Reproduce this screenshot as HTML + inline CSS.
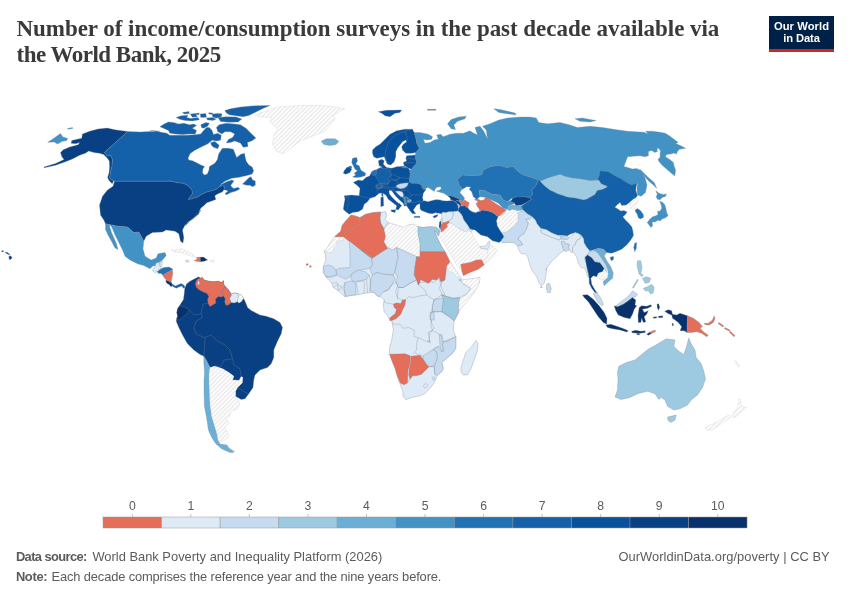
<!DOCTYPE html>
<html><head><meta charset="utf-8"><title>Number of income/consumption surveys</title>
<style>
html,body{margin:0;padding:0;background:#fff;}
body{width:850px;height:600px;position:relative;overflow:hidden;font-family:"Liberation Sans",sans-serif;}
.title{position:absolute;left:16.5px;top:16.4px;margin:0;font-family:"Liberation Serif",serif;font-weight:bold;font-size:23px;line-height:26px;color:#3a3a3a;white-space:nowrap;}
.logo{position:absolute;left:769px;top:16px;width:65px;height:33px;background:#002147;border-bottom:3px solid #ce261e;color:#fff;font-weight:bold;font-size:11.2px;line-height:12.2px;text-align:center;padding-top:3.9px;box-sizing:border-box;height:36px;white-space:nowrap;}
.foot{position:absolute;font-size:12.9px;line-height:16px;color:#5b5b5b;white-space:nowrap;}
.foot b{font-weight:bold;}
svg{position:absolute;left:0;top:0;}
svg text{font-family:"Liberation Sans",sans-serif;}
</style></head><body>
<svg width="850" height="600" viewBox="0 0 850 600">
<defs><pattern id="h" width="3.07" height="3.07" patternUnits="userSpaceOnUse" patternTransform="rotate(-45)"><rect width="3.07" height="3.07" fill="#fff"/><rect width="3.07" height="1.45" fill="#ebebeb"/></pattern></defs>
<g stroke="#808890" stroke-opacity=".6" stroke-width=".55" stroke-linejoin="round">
<path d="M47.7 142.3L52.7 139.0L60.5 133.4L62.9 136.9L67.5 138.3L66.8 140.5L61.9 141.5L57.6 144.0L54.1 141.9Z" fill="#4292c6"/>
<path d="M67.5 128.4L72.5 127.6L72.8 128.4L68.0 129.3Z" fill="#4292c6"/>
<path d="M82.4 134.1L89.5 131.3L98.0 129.1L107.2 128.1L115.0 129.8L127.8 131.5L104.4 152.5L107.2 156.0L110.8 155.6L112.5 159.6L111.9 166.7L110.5 172.3L109.6 178.0L113.6 180.8L112.2 183.7L109.3 180.8L107.6 177.7L109.1 172.3L109.6 166.7L109.3 161.0L107.2 157.9L103.7 154.6L99.4 153.2L93.8 152.5L88.8 151.1L85.3 153.2L79.6 155.3L72.5 158.9L65.4 161.7L55.5 165.3L44.2 167.8L43.9 167.0L55.5 163.6L64.0 159.6L61.9 156.8L60.5 152.5L63.3 149.7L69.7 147.1L78.2 144.7L79.6 142.6L75.3 143.7L71.1 143.3L71.8 140.5L78.2 139.0L81.7 138.3Z" fill="#084083"/>
<path d="M140.0 132.0L150.0 131.5L160.0 131.2L150.0 130.4L158.5 131.8L166.9 133.2L169.8 135.3L178.2 135.3L186.7 135.3L196.6 134.6L200.8 133.9L203.6 130.4L206.5 127.5L209.3 127.5L212.1 130.4L213.5 134.6L217.8 133.2L221.3 135.3L220.6 140.2L216.4 140.9L212.1 140.2L207.9 143.8L202.2 146.6L195.2 150.1L190.2 153.6L188.1 157.9L188.1 158.0L188.7 160.1L192.4 160.7L196.7 162.8L200.9 164.9L204.6 166.5L203.0 168.7L202.5 172.9L204.6 175.1L207.3 174.0L208.9 170.3L209.4 166.5L214.8 163.3L217.4 159.6L218.5 154.3L221.2 150.0L222.5 148.3L228.3 148.3L233.3 149.2L235.0 153.3L236.7 157.5L240.8 154.2L245.0 153.3L244.6 154.3L246.2 161.2L248.9 164.9L252.1 167.1L253.7 170.8L252.1 174.0L246.8 175.6L239.3 177.2L231.8 178.3L225.4 180.9L221.2 184.1L219.6 186.8L216.9 188.9L212.6 190.5L206.8 192.1L202.0 194.2L197.7 196.9L191.3 199.0L188.1 199.6L189.7 196.9L192.4 193.7L191.9 190.0L188.7 186.2L183.9 183.6L176.4 182.5L170.0 180.9L171.2 181.2L114.4 181.3L113.6 180.8L109.6 178.0L110.5 172.3L111.9 166.7L112.5 159.6L110.8 155.6L107.2 156.0L104.4 152.5L127.8 131.5Z" fill="#1561a9"/>
<path d="M159.9 126.8L164.1 124.0L168.4 121.9L174.0 122.6L178.2 124.0L183.9 123.3L189.5 124.7L193.8 124.0L196.6 125.4L192.4 128.2L196.6 130.4L195.2 133.9L189.5 133.9L182.5 134.6L175.4 133.9L169.8 133.2L168.4 130.4L163.4 128.2Z" fill="#1561a9"/>
<path d="M176.1 117.6L181.1 115.8L188.1 115.2L186.7 117.6L190.9 118.4L198.0 117.6L199.4 119.8L192.4 120.9L185.3 120.5L180.4 119.5Z" fill="#1561a9"/>
<path d="M195.2 113.4L199.4 113.0L198.7 114.8L195.5 114.8Z" fill="#1561a9"/>
<path d="M206.5 118.1L212.1 117.6L216.4 119.1L212.8 120.5L207.2 119.8Z" fill="#1561a9"/>
<path d="M208.6 112.7L212.8 113.0L212.1 114.4L209.0 114.1Z" fill="#1561a9"/>
<path d="M217.8 113.4L222.0 113.8L221.3 116.9L217.8 116.7Z" fill="#1561a9"/>
<path d="M200.8 124.7L205.8 122.6L209.3 123.3L207.9 126.1L203.6 128.2L201.5 127.5Z" fill="#1561a9"/>
<path d="M216.4 127.5L219.2 124.7L226.2 123.3L234.7 124.0L240.4 124.7L246.0 128.2L250.9 133.2L255.9 138.1L251.7 140.9L247.4 142.4L248.1 146.6L243.2 147.3L240.4 143.1L234.7 140.9L230.5 142.4L226.2 143.1L228.4 139.5L232.6 137.4L234.7 133.9L230.5 131.8L224.8 131.8L222.0 133.9L217.8 131.8Z" fill="#1561a9"/>
<path d="M217.8 117.6L226.2 116.7L236.1 116.9L241.8 119.1L238.2 121.9L229.1 122.3L220.6 121.5Z" fill="#1561a9"/>
<path d="M190.2 114.1L195.2 113.4L197.3 116.7L192.4 117.2Z" fill="#1561a9"/>
<path d="M200.1 114.1L205.8 113.4L206.5 117.2L200.8 117.6Z" fill="#1561a9"/>
<path d="M212.1 114.1L217.8 113.4L220.6 116.9L216.4 118.1L212.8 117.2Z" fill="#1561a9"/>
<path d="M182.5 112.4L188.8 111.6L189.5 113.6L183.9 114.1Z" fill="#1561a9"/>
<path d="M224.8 110.6L230.5 108.8L240.4 107.1L251.7 105.9L270.0 105.4L262.9 108.5L254.5 112.7L248.8 115.5L243.2 116.7L236.1 115.8L229.1 114.8L226.2 112.7Z" fill="#1561a9"/>
<path d="M210.7 142.4L214.9 141.6L219.2 145.2L217.8 148.7L213.5 147.3L211.4 145.2Z" fill="#1561a9"/>
<path d="M242.5 184.1L245.7 180.9L248.9 177.7L251.0 176.7L252.6 179.9L255.3 180.9L255.3 185.2L252.6 186.8L250.0 185.2L246.8 185.2Z" fill="#1561a9"/>
<path d="M219.6 186.8L221.2 184.6L226.5 181.8L231.8 180.1L234.0 180.9L232.4 183.0L230.8 185.2L231.8 187.3L234.0 188.4L238.2 187.3L239.8 188.9L236.1 191.0L230.8 192.6L226.5 194.8L224.9 193.7L228.1 191.0L225.4 190.0L223.8 190.0L224.4 186.8L222.2 185.7Z" fill="#1561a9"/>
<path d="M114.5 181.2L171.2 181.2L170.0 180.9L176.4 182.5L183.9 183.6L188.7 186.2L191.9 190.0L192.4 193.7L189.7 196.9L188.1 199.6L191.3 199.0L197.7 196.9L202.0 194.2L206.8 192.1L212.6 190.5L216.9 188.9L219.6 186.8L222.2 185.7L224.4 186.8L223.8 190.0L222.2 192.1L218.0 193.7L214.8 195.8L215.8 199.6L211.0 201.2L206.8 202.8L204.1 205.4L200.9 208.1L199.3 211.3L198.8 214.0L192.5 218.8L187.5 222.5L185.0 226.2L201.2 210.0L197.5 215.0L190.0 221.2L185.0 225.0L182.5 230.0L183.8 237.5L183.0 243.0L180.5 241.2L178.8 233.8L175.0 231.2L166.2 230.0L162.5 232.0L152.5 232.5L146.2 236.2L143.8 241.2L138.8 232.0L133.8 232.5L127.5 227.0L117.5 226.2L105.5 223.8L103.8 220.0L100.5 215.0L99.5 205.0L102.5 196.2L107.5 190.0L113.0 186.2Z" fill="#084083"/>
<path d="M105.5 223.8L117.5 226.2L127.5 227.0L133.8 232.5L138.8 232.0L143.8 241.2L143.0 248.8L145.0 256.2L151.2 260.0L156.2 258.0L158.0 253.8L165.0 252.5L166.2 255.5L162.5 260.0L160.0 262.0L157.5 262.5L155.5 265.5L152.5 266.2L150.0 268.8L143.8 265.5L137.5 263.8L130.0 260.0L125.0 256.2L122.5 250.0L118.8 242.5L115.0 235.0L112.5 228.8L110.5 225.0L109.5 226.0L111.5 232.5L114.0 238.0L116.5 243.8L118.0 249.5L115.0 248.0L111.5 241.2L108.0 235.0L105.5 229.5Z" fill="#4292c6"/>
<path d="M152.9 269.4L155.3 266.5L155.9 262.9L159.4 262.9L160.0 266.5L161.2 267.6L160.0 269.4L157.6 271.8L154.7 272.4L152.6 270.9Z" fill="#deebf7"/>
<path d="M160.0 261.8L162.4 261.2L161.8 266.5L160.0 266.5Z" fill="#deebf7"/>
<path d="M160.0 269.4L163.5 267.6L168.8 267.1L172.4 268.8L172.4 270.0L166.5 272.9L162.9 275.3L161.2 273.5L158.8 273.5L157.1 271.8Z" fill="#2171b5"/>
<path d="M162.9 275.3L166.5 272.9L172.4 270.0L172.9 273.5L171.8 278.2L171.2 282.4L168.8 281.2L165.9 279.4L163.5 277.1Z" fill="#e56e5a"/>
<path d="M165.9 280.0L168.8 281.2L171.8 282.9L172.4 285.3L171.2 287.1L169.4 284.7L167.1 283.5L165.9 281.8Z" fill="#08306b"/>
<path d="M172.4 284.1L175.3 285.9L178.2 284.7L181.2 283.5L184.1 285.3L185.1 287.6L183.5 288.2L181.8 285.9L178.8 287.1L176.5 288.2L173.5 287.1L171.8 285.3Z" fill="#1561a9"/>
<path d="M185.3 260.4L188.2 260.0L189.4 261.4L186.5 262.4Z" fill="#deebf7"/>
<path d="M194.1 260.4L197.1 259.4L196.5 257.3L200.0 257.3L200.6 261.8L197.1 261.5Z" fill="#e56e5a"/>
<path d="M200.0 257.3L203.5 257.1L207.6 260.0L204.1 261.2L200.6 261.8Z" fill="#08306b"/>
<path d="M210.0 260.4L214.1 260.4L214.1 261.8L210.0 261.8Z" fill="url(#h)" stroke="#c8c8c8" stroke-width=".5"/>
<path d="M171.2 250.0L182.5 248.8L192.5 253.8L195.0 257.0L188.8 255.5L181.2 252.5L173.8 252.0Z" fill="url(#h)" stroke="#c8c8c8" stroke-width=".5"/>
<path d="M185.1 287.6L186.5 284.1L190.0 281.2L194.7 278.8L198.8 276.8L200.6 278.2L202.4 277.6L204.1 280.0L208.8 281.2L213.5 281.8L218.2 281.2L221.8 282.4L223.5 280.6L223.5 284.1L225.3 286.5L228.2 289.4L230.6 292.9L231.2 294.1L234.7 292.9L238.2 293.8L241.8 295.3L243.5 298.2L245.3 301.8L247.6 307.6L247.5 307.5L251.2 310.5L260.0 315.0L266.2 316.2L273.8 318.8L280.0 322.5L282.5 327.5L281.2 333.8L277.5 341.2L273.8 350.0L273.8 357.5L271.2 363.8L267.5 367.5L260.0 370.0L255.0 375.0L253.8 380.0L253.0 387.5L248.8 393.8L245.0 398.8L241.2 399.5L235.5 396.2L235.5 391.2L237.5 387.5L242.5 382.5L243.0 377.5L241.2 376.2L238.8 380.5L232.5 380.0L233.8 376.2L228.8 372.5L222.5 368.8L215.0 366.2L210.0 367.5L206.2 360.0L203.8 356.2L200.0 354.5L193.8 350.0L187.5 343.8L182.5 335.0L178.8 327.5L176.2 321.2L176.5 319.4L177.6 315.9L176.8 312.4L177.6 308.8L179.4 305.9L181.2 302.9L183.5 299.4L184.1 294.7L184.7 288.8Z" fill="#084083"/>
<path d="M200.6 278.2L202.4 277.6L204.1 280.0L208.8 281.2L213.5 281.8L218.2 281.2L221.8 282.4L223.5 280.6L223.5 284.1L225.3 286.5L222.9 290.0L221.8 293.5L223.5 295.9L221.2 297.1L218.2 296.5L215.3 299.4L215.9 302.9L212.9 304.7L210.0 306.5L208.2 303.5L207.6 299.4L208.8 296.5L207.1 293.5L202.9 291.8L199.4 290.0L196.5 287.6L195.3 284.1L196.5 280.6L198.2 278.8Z" fill="#e56e5a"/>
<path d="M197.6 281.5L199.2 281.2L199.4 284.4L197.9 284.7Z" fill="#ffffff"/>
<path d="M225.3 286.5L228.2 289.4L230.6 292.9L231.2 295.9L229.4 298.2L231.2 302.4L228.8 304.7L225.9 305.3L224.7 301.8L225.3 298.8L223.5 295.9L221.8 293.5L222.9 290.0Z" fill="#e56e5a"/>
<path d="M231.2 294.1L234.7 292.9L238.2 293.8L238.5 297.1L237.6 301.8L234.1 302.9L231.2 302.4L229.4 298.2L231.2 295.9Z" fill="#deebf7"/>
<path d="M238.2 293.8L241.8 295.3L243.5 298.2L241.2 301.8L238.8 302.9L237.6 301.8L238.5 297.1Z" fill="url(#h)" stroke="#c8c8c8" stroke-width=".5"/>
<path d="M179.4 305.9L182.9 306.5L186.5 308.2L189.4 310.0L187.6 312.9L185.3 315.3L182.4 317.6L179.4 320.0L176.5 319.4L177.6 315.9L176.8 312.4L177.6 308.8Z" fill="#08306b"/>
<path d="M203.8 356.2L206.2 360.0L210.0 367.5L209.0 375.0L209.0 380.0L209.6 392.0L210.0 404.0L211.6 416.0L214.0 424.0L217.0 434.0L218.0 440.0L220.0 444.0L227.0 445.0L229.0 448.0L233.6 451.0L233.6 452.4L230.0 452.4L222.0 449.0L216.0 444.0L212.0 438.0L208.4 430.0L207.0 420.0L204.4 406.0L204.0 392.0L204.0 380.0L204.5 372.5L203.8 362.5Z" fill="#6baed6"/>
<path d="M210.0 367.5L215.0 366.2L222.5 368.8L228.8 372.5L233.8 376.2L232.5 380.0L238.8 380.5L242.5 382.5L237.5 387.5L235.5 391.2L235.5 396.2L235.0 396.0L238.0 400.0L240.0 404.0L238.0 409.0L231.0 411.0L230.0 416.0L226.0 418.0L229.0 423.0L225.0 427.0L227.0 432.0L229.0 436.0L225.0 440.0L220.0 442.0L218.0 440.0L217.0 434.0L214.0 424.0L211.6 416.0L210.0 404.0L209.6 392.0L209.0 380.0L209.0 375.0Z" fill="url(#h)" stroke="#c8c8c8" stroke-width=".5"/>
<path d="M227.0 445.0L230.0 449.0L236.0 451.0L233.6 451.0L229.0 448.0Z" fill="url(#h)" stroke="#c8c8c8" stroke-width=".5"/>
<path d="M255.0 115.0L265.0 111.2L277.5 107.0L300.0 105.5L320.0 105.5L335.0 107.0L345.0 108.8L340.0 111.2L333.8 115.0L335.0 120.0L330.0 125.0L325.0 131.2L312.5 136.2L300.0 141.2L290.0 148.8L282.5 153.8L276.2 151.2L272.5 143.8L273.8 135.0L277.5 128.8L270.0 122.5L271.2 117.5L260.0 117.0Z" fill="url(#h)" stroke="#c8c8c8" stroke-width=".5"/>
<path d="M321.2 141.2L326.2 138.8L335.0 138.8L338.8 141.2L336.2 144.5L330.0 145.5L323.8 144.5Z" fill="#6baed6"/>
<path d="M414.2 132.5L420.0 132.5L428.3 134.2L432.5 136.7L431.7 139.2L426.7 140.0L423.3 139.2L425.0 143.3L430.0 142.5L434.2 140.0L438.3 139.2L436.7 135.0L440.8 134.2L443.3 136.7L450.0 134.2L456.7 133.3L463.3 133.3L470.0 130.8L472.5 132.5L477.5 135.0L475.0 127.5L480.0 126.2L483.8 131.2L487.5 138.8L486.2 130.0L482.5 126.2L490.0 123.8L498.8 120.0L507.5 118.0L520.0 117.0L530.0 117.0L536.2 118.0L538.8 122.5L547.5 123.8L560.0 122.5L570.0 125.0L577.5 127.5L590.0 126.2L602.5 127.5L615.0 129.5L627.5 131.2L640.0 132.0L644.1 132.3L647.8 133.9L645.7 131.2L652.6 131.2L660.1 132.3L665.4 133.3L669.7 136.0L674.0 139.2L678.2 142.4L675.6 143.5L680.4 145.6L685.7 148.3L682.5 148.8L679.3 149.3L677.2 152.0L676.6 154.1L674.0 153.0L670.8 154.1L666.5 154.6L665.4 156.8L669.7 159.4L673.4 162.6L674.0 165.8L675.6 170.1L674.8 176.0L670.8 172.8L666.5 169.0L662.2 165.3L659.0 161.6L658.0 159.4L660.1 157.3L660.1 153.0L660.6 150.9L658.5 148.3L656.9 148.8L657.4 151.4L654.8 152.5L651.6 150.4L648.4 151.4L648.4 155.7L645.2 156.8L639.9 155.7L633.5 156.2L627.6 156.8L626.0 161.0L623.9 166.4L627.6 167.4L632.4 169.0L636.7 168.5L640.9 170.6L645.0 177.5L647.0 185.0L645.5 192.5L641.2 196.2L637.5 195.0L637.0 188.8L637.5 183.0L632.5 190.0L625.0 186.2L617.5 181.2L608.8 177.5L600.0 175.0L597.5 183.3L590.0 182.5L585.0 183.3L576.7 181.7L568.3 179.2L560.0 177.5L583.3 183.3L573.3 180.8L563.3 180.0L558.3 177.5L546.7 181.7L540.0 183.3L538.3 180.0L531.7 177.5L523.3 175.0L518.3 171.7L513.3 166.7L506.7 167.5L498.3 165.3L490.0 166.7L483.3 170.0L481.7 175.0L471.7 175.8L462.5 175.0L457.5 179.2L459.2 185.0L462.5 189.2L461.8 189.5L459.9 192.4L462.8 195.7L464.7 198.5L462.8 201.9L460.4 200.0L458.0 198.5L454.2 196.9L450.4 195.7L447.6 195.7L443.8 193.3L439.0 191.9L436.2 190.9L439.0 190.5L441.4 188.6L440.4 186.7L437.1 187.1L435.2 189.0L434.3 191.4L431.4 189.5L428.1 187.6L425.2 188.6L425.8 190.0L423.3 187.5L421.7 184.7L416.7 183.3L411.7 183.3L409.2 181.7L409.7 178.3L410.0 174.2L409.7 170.0L411.7 169.2L413.3 166.7L416.7 163.3L415.8 159.2L415.0 155.0L415.8 152.5L419.2 148.3L416.7 143.3L415.8 138.3Z" fill="#4292c6"/>
<path d="M447.5 123.8L451.2 119.5L458.8 117.0L466.2 116.2L465.0 118.8L457.5 121.2L453.8 125.0L455.5 129.5L451.2 128.8Z" fill="#4292c6"/>
<path d="M493.8 108.8L500.0 109.5L507.5 111.2L515.0 113.0L516.2 115.0L507.5 113.8L498.8 112.5Z" fill="#4292c6"/>
<path d="M575.0 118.8L582.5 118.0L590.0 119.5L596.2 120.5L590.0 122.0L580.0 121.2Z" fill="#4292c6"/>
<path d="M640.0 169.2L643.3 172.5L648.3 177.5L654.2 182.5L656.7 188.3L653.3 185.0L648.3 180.8L644.2 175.8L640.8 171.7Z" fill="#4292c6"/>
<path d="M427.5 109.2L435.8 109.2L435.8 110.3L427.5 110.3Z" fill="#4292c6"/>
<path d="M378.3 111.7L386.7 110.3L401.7 110.0L400.0 112.5L395.0 113.3L390.0 116.7L385.0 115.8L381.7 113.3Z" fill="#08519c"/>
<path d="M372.5 150.0L375.8 146.7L380.0 144.2L385.0 139.2L390.0 134.2L396.7 130.8L405.0 129.2L412.5 129.2L414.2 132.5L415.8 138.3L416.7 143.3L419.2 148.3L415.8 152.5L411.7 153.3L405.8 153.3L402.5 150.0L401.7 146.7L403.3 144.2L406.7 141.7L405.8 140.0L402.5 141.7L400.0 145.0L397.5 148.3L395.8 151.7L395.8 156.7L394.2 161.7L390.8 165.0L387.5 164.2L385.8 160.8L384.2 156.7L380.8 157.5L376.7 158.3L373.7 156.7L372.5 153.3Z" fill="#08519c"/>
<path d="M406.7 155.8L415.0 155.0L415.8 159.2L416.7 163.3L413.3 166.7L411.7 169.2L408.3 168.3L404.2 165.8L403.3 162.5L406.7 160.8L405.8 158.3Z" fill="#08519c"/>
<path d="M353.3 182.5L358.3 180.0L362.5 180.8L365.8 177.5L370.0 175.8L370.0 175.0L371.7 171.7L375.8 169.7L377.5 170.8L380.8 169.2L381.7 166.7L379.2 165.8L378.3 160.8L381.7 159.2L384.2 160.8L383.3 164.2L385.8 166.7L386.7 167.5L391.7 168.3L396.7 166.7L403.3 166.3L408.3 168.3L409.7 170.0L410.0 174.2L409.7 178.3L409.2 181.7L411.7 183.3L416.7 183.3L421.7 184.7L423.3 187.5L425.8 189.7L423.3 193.3L422.5 197.5L423.3 200.8L420.8 203.3L416.7 205.0L415.0 207.5L413.3 210.0L415.8 213.7L412.5 213.7L410.0 210.8L408.3 208.3L406.7 205.8L404.2 206.1L403.2 203.2L400.9 201.3L398.0 198.5L395.2 195.6L392.8 192.3L391.4 190.4L389.0 190.4L389.3 193.7L391.8 197.0L395.2 200.4L398.5 203.2L399.2 203.3L401.7 205.8L400.0 207.5L398.3 210.0L395.8 209.2L396.7 205.8L392.5 202.5L388.3 199.2L385.8 195.0L382.5 193.3L379.2 193.3L375.0 196.7L370.0 198.3L367.5 201.7L364.2 204.2L362.5 209.2L358.3 211.7L352.5 212.5L349.2 214.2L345.8 211.7L343.3 209.2L344.2 203.3L345.0 199.2L344.2 195.8L351.7 195.0L359.2 195.8L359.2 195.0L360.0 188.3L356.7 185.0Z" fill="#08519c"/>
<path d="M390.8 210.0L395.8 209.7L395.0 212.5L391.7 211.7Z" fill="#08519c"/>
<path d="M380.8 197.5L383.3 196.7L383.7 205.8L380.8 206.7Z" fill="#08519c"/>
<path d="M381.7 193.7L383.0 193.3L383.0 196.3L381.7 196.3Z" fill="#08519c"/>
<path d="M414.2 216.3L420.0 216.3L420.0 217.5L414.2 217.5Z" fill="#08519c"/>
<path d="M352.5 158.3L356.7 157.5L357.5 160.8L355.8 164.2L359.2 165.8L360.8 170.0L363.3 171.7L365.8 173.3L365.0 175.8L360.8 177.0L356.7 177.5L352.5 177.0L355.8 175.0L354.2 173.3L357.5 170.8L355.0 169.2L353.3 165.8L351.7 162.5Z" fill="#2171b5"/>
<path d="M344.2 170.8L346.7 167.5L349.7 166.7L351.7 169.2L350.0 172.5L345.8 174.2L343.3 173.3Z" fill="#08519c"/>
<path d="M348.7 166.3L351.3 166.0L352.0 168.3L349.7 168.0Z" fill="#2171b5"/>
<path d="M376.6 169.5L380.4 167.6L382.8 168.5L387.6 168.5L390.4 169.5L390.9 172.8L391.8 175.7L388.0 178.0L389.5 181.8L387.6 184.7L382.8 184.2L379.0 183.7L378.5 180.4L376.2 178.5L375.7 175.2L376.6 172.3Z" fill="#1561a9"/>
<path d="M371.4 173.8L372.8 170.9L375.7 170.1L376.6 172.3L375.7 175.2L373.3 175.7Z" fill="#2171b5"/>
<path d="M375.7 186.1L378.5 184.7L382.8 185.6L382.3 188.0L378.5 189.0L376.2 188.5Z" fill="#1561a9"/>
<path d="M396.6 185.2L399.9 183.7L404.7 183.1L408.5 182.8L407.5 185.6L404.7 188.0L400.9 189.0L397.5 188.0L396.1 186.6Z" fill="#c6dbef"/>
<path d="M395.2 191.3L399.0 190.9L402.3 191.8L403.7 194.7L402.8 197.5L400.4 196.6L397.5 193.7Z" fill="#deebf7"/>
<path d="M402.8 197.5L404.2 196.1L406.1 197.0L405.6 199.4L403.9 199.9Z" fill="#4292c6"/>
<path d="M406.4 196.7L408.5 197.5L408.5 199.4L406.6 199.2Z" fill="#4292c6"/>
<path d="M407.0 199.9L410.4 198.9L411.8 200.8L409.9 202.7L407.3 202.3Z" fill="#6baed6"/>
<path d="M403.9 199.9L405.6 199.4L407.0 202.3L406.6 205.6L404.7 205.1L404.2 202.3Z" fill="#4292c6"/>
<path d="M420.8 184.2L423.2 185.6L425.1 189.0L423.7 189.7L422.2 187.5Z" fill="#4292c6"/>
<path d="M401.8 166.2L406.6 166.6L406.6 168.1L401.8 167.6Z" fill="#4292c6"/>
<path d="M420.0 202.3L424.3 200.7L428.1 201.7L431.4 200.7L435.2 199.8L439.0 199.8L442.8 200.7L446.6 201.1L449.9 200.7L452.8 200.4L455.6 201.9L457.1 203.8L458.0 206.1L458.5 208.5L458.0 210.9L455.2 211.4L452.3 211.8L448.5 211.8L445.7 212.8L442.8 212.3L441.9 213.7L439.0 213.3L435.2 212.8L432.4 213.7L428.6 213.3L424.8 211.8L421.4 210.4L420.0 208.5Z" fill="#08519c"/>
<path d="M447.6 195.7L450.4 195.7L454.2 196.9L458.0 198.5L460.4 200.0L459.0 200.7L456.6 200.4L455.6 201.7L452.8 200.4L450.4 199.5L450.2 198.1Z" fill="#084083"/>
<path d="M455.6 201.7L456.6 200.4L459.0 200.9L460.4 202.8L461.8 205.2L460.4 206.1L458.5 204.2L457.1 203.8Z" fill="#08519c"/>
<path d="M459.0 200.7L460.4 200.0L462.8 201.9L464.7 200.0L467.0 201.4L469.4 202.8L468.5 205.2L468.0 208.0L466.6 207.6L465.1 205.7L463.2 206.1L461.8 205.2L460.4 202.8L459.9 201.4Z" fill="#e56e5a"/>
<path d="M458.5 204.9L460.7 205.7L460.4 207.1L458.8 206.6Z" fill="#e56e5a"/>
<path d="M458.5 208.5L460.4 206.1L463.2 206.1L465.1 205.7L466.6 207.6L468.0 208.0L469.4 209.9L472.3 211.8L475.6 212.8L478.4 211.4L479.9 211.4L482.2 209.9L485.6 210.4L488.4 210.9L492.2 212.3L495.1 214.2L498.3 216.7L496.7 220.8L497.5 225.8L500.0 230.0L504.2 235.0L503.3 239.2L499.2 242.5L492.5 240.8L487.5 236.7L480.8 235.0L475.0 230.0L470.4 229.4L468.5 226.6L466.6 223.7L463.7 219.9L462.3 216.1L460.4 213.3L458.0 210.9Z" fill="#08519c"/>
<path d="M474.6 199.0L477.0 198.5L480.8 200.4L483.7 200.0L485.6 197.6L488.4 198.1L491.3 200.4L496.0 203.8L503.3 208.3L506.7 210.0L503.3 214.2L498.3 216.7L494.2 213.3L495.1 214.2L492.2 212.3L488.4 210.9L485.6 210.4L482.2 209.9L479.9 211.4L478.9 208.5L477.0 206.1L476.1 203.3L478.0 202.3L477.0 200.4L475.6 200.4Z" fill="#e56e5a"/>
<path d="M452.3 211.8L455.2 211.4L458.0 210.9L460.4 213.3L462.3 216.1L463.7 219.9L466.6 223.7L468.5 226.6L469.4 229.4L466.6 231.8L463.7 231.3L459.9 229.4L456.1 226.6L452.3 224.2L449.5 222.8L448.5 220.9L451.4 219.4L452.8 216.1L453.3 213.3Z" fill="#deebf7"/>
<path d="M441.9 213.7L442.8 212.3L445.7 212.8L448.5 211.8L452.3 211.8L453.3 213.3L452.8 216.1L451.4 219.4L448.5 220.9L445.7 222.3L442.8 222.8L441.4 220.9L442.3 219.0L441.4 216.6Z" fill="#deebf7"/>
<path d="M440.7 219.0L442.0 218.8L442.2 220.9L441.1 221.8Z" fill="#deebf7"/>
<path d="M439.5 221.8L441.1 221.3L441.1 224.7L440.7 228.5L440.1 229.4L439.0 226.6Z" fill="#08519c"/>
<path d="M441.1 224.7L442.8 222.8L445.7 222.3L448.5 220.9L449.5 222.8L447.1 224.7L448.0 227.0L445.7 228.5L443.3 231.3L441.1 232.3L440.7 228.5Z" fill="#e56e5a"/>
<path d="M432.8 216.6L435.7 215.3L438.1 214.4L437.1 216.6L434.3 218.0Z" fill="#08519c"/>
<path d="M469.4 229.4L471.3 228.9L472.1 231.3L470.4 232.1Z" fill="#deebf7"/>
<path d="M439.5 234.6L441.1 232.3L443.3 231.3L445.7 228.5L448.0 227.0L447.1 224.7L449.5 222.8L452.3 224.2L456.1 226.6L459.9 229.4L463.7 231.3L466.6 231.8L469.4 229.4L470.4 232.1L472.1 231.8L473.3 236.7L477.5 243.3L480.8 247.5L487.5 249.2L488.3 256.7L483.3 260.8L476.7 260.0L470.0 262.5L461.7 264.2L460.0 269.2L455.8 263.3L450.0 253.3L445.0 245.0L441.7 240.0L440.0 236.7Z" fill="url(#h)" stroke="#c8c8c8" stroke-width=".5"/>
<path d="M457.5 179.2L462.5 175.0L471.7 175.8L481.7 175.0L483.3 170.0L490.0 166.7L498.3 165.3L506.7 167.5L513.3 166.7L518.3 171.7L523.3 175.0L531.7 177.5L538.3 180.0L535.8 185.8L531.7 190.0L532.5 194.2L529.2 197.5L523.3 196.7L516.7 197.5L511.7 198.3L507.5 201.7L503.3 200.0L500.0 195.0L491.7 194.2L485.0 190.8L479.2 190.0L480.0 196.7L476.7 199.2L473.3 196.7L471.7 191.7L469.2 189.2L470.8 187.0L466.7 186.7L462.5 189.2L459.2 185.0Z" fill="#2171b5"/>
<path d="M479.2 190.0L485.0 190.8L491.7 194.2L500.0 195.0L503.3 200.0L507.5 201.7L511.7 200.0L515.8 203.3L510.0 205.0L507.5 209.2L503.3 208.3L498.3 203.3L491.7 200.0L485.8 197.5L480.0 196.7Z" fill="#4292c6"/>
<path d="M512.5 198.3L516.7 197.0L523.3 196.7L529.2 197.5L531.7 199.2L526.7 202.5L521.7 205.0L515.8 205.8L514.2 202.5L510.8 201.7Z" fill="#084083"/>
<path d="M507.5 205.8L510.8 204.2L515.8 205.8L521.7 205.8L522.5 210.0L516.7 210.8L512.5 209.2L509.2 210.8L507.5 209.2Z" fill="#6baed6"/>
<path d="M538.3 180.0L540.0 180.8L545.0 185.8L550.0 190.0L560.0 192.5L566.7 196.7L575.0 197.5L583.3 198.3L560.0 193.3L568.3 196.7L576.7 197.5L585.0 199.2L592.5 195.0L595.8 190.8L602.5 189.2L607.5 186.7L599.2 183.3L597.5 180.0L599.2 175.8L600.0 170.8L608.3 171.7L615.0 175.8L621.7 179.2L626.7 182.5L631.7 185.0L636.7 183.3L635.8 190.0L637.5 195.8L635.6 198.1L632.9 199.7L629.7 202.4L626.0 205.1L621.7 205.6L620.1 202.4L617.5 204.5L614.8 207.2L617.5 208.8L620.7 210.9L623.9 210.4L627.1 212.0L625.5 214.6L622.8 216.8L625.5 220.0L629.2 223.7L631.9 226.9L632.9 231.2L633.5 235.4L630.8 240.0L626.7 245.0L621.7 249.2L615.8 251.7L611.7 253.3L606.7 252.5L603.3 249.2L598.3 248.3L593.3 250.0L590.0 250.8L592.9 251.8L590.0 251.2L586.5 247.1L584.1 242.9L583.5 238.8L581.2 235.3L578.2 233.5L575.3 232.4L570.6 234.1L567.1 235.9L562.4 235.3L557.6 235.3L551.8 232.9L545.9 229.4L540.6 228.2L537.1 224.1L535.3 220.0L531.8 216.5L527.6 214.1L523.5 210.6L520.6 205.3L522.5 210.0L521.7 205.8L526.7 202.5L531.7 199.2L529.2 197.5L532.5 194.2L531.7 190.0L535.8 185.8Z" fill="#1561a9"/>
<path d="M540.0 181.2L547.5 178.0L560.0 174.2L565.0 176.2L572.5 178.0L580.0 178.8L590.0 180.5L598.8 180.0L601.2 183.8L607.0 186.2L602.5 188.8L597.5 190.0L595.0 194.5L587.5 198.8L583.8 200.0L575.0 198.0L567.5 197.0L557.5 193.8L550.0 190.0L545.0 186.2Z" fill="#9ecae1"/>
<path d="M610.0 257.5L613.3 256.3L613.7 259.2L611.3 260.8Z" fill="#1561a9"/>
<path d="M634.7 243.3L636.7 242.5L636.3 248.3L634.7 251.7L633.7 247.5Z" fill="#2171b5"/>
<path d="M629.7 202.4L632.9 199.7L635.6 198.1L637.5 198.7L637.9 201.3L635.6 205.1L635.1 208.3L632.4 209.9L630.8 208.8L630.3 205.6Z" fill="url(#h)" stroke="#c8c8c8" stroke-width=".5"/>
<path d="M635.1 209.9L637.7 208.6L640.9 210.9L643.3 214.6L643.6 217.3L640.4 218.9L638.3 217.8L637.2 214.1L635.6 212.0Z" fill="#2171b5"/>
<path d="M655.8 190.7L659.0 193.3L663.3 194.4L666.5 193.9L665.4 196.5L662.2 197.6L660.1 199.7L657.4 199.2L656.1 196.5L657.4 194.4Z" fill="#4292c6"/>
<path d="M659.6 201.3L662.8 202.4L664.9 205.1L666.0 208.8L666.5 212.0L668.1 215.7L665.4 217.8L662.2 218.9L660.1 221.0L657.4 220.0L654.8 221.0L652.1 222.6L648.9 222.1L647.3 222.6L650.0 218.9L652.6 216.8L655.8 215.7L658.0 214.6L657.4 211.4L660.1 210.9L661.7 208.3L661.2 205.1Z" fill="#4292c6"/>
<path d="M647.3 222.6L650.0 221.0L652.1 222.6L652.6 225.8L651.0 227.4L648.9 224.8Z" fill="#4292c6"/>
<path d="M653.2 220.3L656.9 219.2L657.4 220.7L654.2 222.2Z" fill="#4292c6"/>
<path d="M546.7 284.2L549.2 283.3L551.3 288.3L550.3 292.5L547.5 292.5L546.3 288.3Z" fill="#c6dbef"/>
<path d="M525.9 219.4L530.0 218.8L531.8 216.5L535.3 220.0L537.1 224.1L540.6 228.2L541.2 232.4L547.1 235.3L554.1 238.2L560.0 240.0L561.2 235.3L562.4 235.3L561.8 238.8L567.1 239.4L570.6 236.5L575.3 232.4L578.2 233.5L581.2 235.3L580.0 238.8L576.5 240.6L575.3 244.7L572.4 247.1L572.9 251.8L571.2 252.9L570.0 249.4L568.2 247.1L569.4 244.7L565.9 243.5L563.5 241.2L561.2 241.8L562.4 245.9L564.1 250.6L561.2 252.4L557.6 255.9L552.9 260.0L548.2 265.9L545.9 270.0L546.7 268.3L545.8 276.7L544.2 283.3L540.0 287.5L542.5 287.5L539.2 283.3L536.7 276.7L531.8 270.0L529.4 263.5L527.6 256.5L525.3 253.5L521.8 254.1L519.4 251.2L517.6 245.9L522.4 244.7L520.6 241.2L518.2 239.4L519.4 236.5L524.1 233.5L526.5 228.8L528.2 223.5Z" fill="#deebf7"/>
<path d="M541.2 230.0L545.9 229.4L551.8 232.9L557.6 235.3L560.6 235.9L560.0 240.0L554.1 238.2L547.1 235.3L541.2 232.4Z" fill="#deebf7"/>
<path d="M561.8 235.9L567.1 235.9L568.8 237.6L567.1 239.4L561.8 238.8Z" fill="#c6dbef"/>
<path d="M561.2 241.8L563.5 241.2L565.9 243.5L569.4 244.7L568.2 247.1L569.4 250.6L567.6 250.0L566.5 251.8L564.1 250.6L562.4 245.9Z" fill="#c6dbef"/>
<path d="M581.2 235.3L583.5 238.8L584.1 242.9L586.5 247.1L590.0 251.2L587.6 254.1L585.3 256.5L584.7 260.0L587.1 264.1L587.6 268.2L588.3 273.3L589.2 278.3L587.5 276.7L585.0 268.3L581.2 267.6L578.2 263.5L577.1 258.2L575.3 254.7L572.9 251.8L572.4 247.1L575.3 244.7L576.5 240.6L580.0 238.8Z" fill="#deebf7"/>
<path d="M517.6 212.9L520.6 211.2L523.5 210.6L527.6 214.1L531.8 216.5L530.0 218.8L525.9 219.4L528.2 223.5L526.5 228.8L524.1 233.5L519.4 236.5L518.2 239.4L520.6 241.2L522.4 244.7L517.6 245.9L514.1 242.9L509.4 242.4L502.4 242.9L501.2 240.0L504.1 237.1L501.8 232.9L507.1 231.2L514.1 225.9L517.6 221.2L518.2 216.5Z" fill="#c6dbef"/>
<path d="M500.0 215.3L503.5 213.5L507.1 212.9L511.8 211.8L515.3 209.4L517.6 212.9L518.2 216.5L517.6 221.2L514.1 225.9L507.1 231.2L501.8 232.9L497.5 225.8L496.7 220.8L498.3 216.7L503.3 214.2L506.7 210.0Z" fill="url(#h)" stroke="#c8c8c8" stroke-width=".5"/>
<path d="M487.5 249.2L491.7 245.0L497.5 250.0L493.3 256.7L488.3 261.7L484.2 265.0L482.5 261.7L488.3 256.7Z" fill="url(#h)" stroke="#c8c8c8" stroke-width=".5"/>
<path d="M480.0 246.7L485.8 245.8L489.2 240.8L490.0 245.0L487.5 249.2L480.8 248.3Z" fill="#deebf7"/>
<path d="M460.8 264.2L470.0 262.5L476.7 260.0L481.7 259.7L484.2 265.0L478.3 269.2L470.0 272.5L463.3 275.8L461.7 270.8Z" fill="#e56e5a"/>
<path d="M334.5 236.9L340.9 231.0L342.0 225.7L345.2 221.4L349.4 217.1L351.0 215.0L355.0 215.3L359.2 218.0L365.8 214.2L373.3 212.5L380.8 212.0L385.8 211.7L386.7 215.8L385.0 219.2L388.3 222.5L390.0 223.3L396.7 225.0L403.3 227.5L408.3 225.0L413.3 224.2L418.0 226.7L423.3 227.5L430.0 226.7L436.7 227.5L440.0 230.8L438.3 235.8L435.8 231.7L434.2 230.8L438.3 240.0L441.7 246.7L445.0 251.7L445.0 251.7L447.5 256.7L450.0 261.7L450.8 262.5L455.8 270.8L460.8 277.5L461.3 280.0L468.3 279.2L480.0 277.5L479.2 283.3L473.3 293.3L466.7 301.7L460.0 309.2L458.3 313.3L454.2 320.8L453.3 330.0L455.8 336.7L455.8 348.3L452.5 353.3L446.7 358.3L441.7 362.5L443.3 368.3L441.7 371.7L437.5 375.0L435.8 379.2L433.3 384.2L429.2 389.2L425.0 393.3L420.0 395.8L411.7 397.5L405.8 399.7L403.3 396.7L402.5 390.0L400.0 384.2L397.5 376.7L395.0 368.3L391.7 360.0L389.2 354.2L389.7 346.7L391.7 340.0L393.3 330.0L391.7 320.0L390.0 320.8L388.3 316.7L384.2 311.7L383.3 305.0L384.2 300.0L381.7 297.5L376.7 295.8L374.2 292.5L366.7 293.0L358.3 294.7L351.7 295.3L345.0 296.7L338.3 290.8L333.3 287.5L331.7 283.3L325.8 276.7L323.0 271.7L323.3 266.7L325.8 260.0L325.0 250.0L324.4 252.8L327.1 248.0L330.3 242.7Z" fill="#deebf7"/>
<path d="M334.5 236.9L340.9 231.0L342.0 225.7L345.2 221.4L349.4 217.1L351.0 215.0L356.9 216.6L359.0 217.1L359.6 221.4L360.1 224.1L355.8 225.7L353.2 228.9L347.3 231.5L344.1 233.7L343.6 236.9Z" fill="#e56e5a"/>
<path d="M334.5 236.9L343.0 236.9L343.6 240.1L336.7 241.1L336.1 245.9L333.5 247.0L332.9 252.3L324.4 252.8L327.1 248.0L330.3 242.7Z" fill="url(#h)" stroke="#c8c8c8" stroke-width=".5"/>
<path d="M359.2 218.0L365.8 214.2L373.3 212.5L380.8 212.0L380.0 218.3L380.8 223.3L384.2 229.2L385.8 236.7L384.2 241.7L387.5 247.5L389.2 247.5L380.0 253.3L372.5 258.3L369.2 256.7L343.6 236.9L344.1 233.7L347.3 231.5L353.2 228.9L355.8 225.7L360.1 224.1L359.6 221.4L359.0 217.1Z" fill="#e56e5a"/>
<path d="M385.8 225.8L390.0 223.3L396.7 225.0L403.3 227.5L408.3 225.0L413.3 224.2L418.0 226.7L418.0 233.3L420.0 243.3L420.0 256.7L416.7 256.7L396.7 247.5L391.7 250.0L387.5 247.5L384.2 241.7L385.8 236.7L384.2 229.2Z" fill="url(#h)" stroke="#c8c8c8" stroke-width=".5"/>
<path d="M418.0 226.7L423.3 227.5L430.0 226.7L436.7 227.5L440.0 230.8L438.3 235.8L435.8 231.7L434.2 230.8L438.3 240.0L441.7 246.7L445.0 251.7L420.0 251.7L420.0 243.3L418.0 233.3Z" fill="#9ecae1"/>
<path d="M349.7 241.3L369.2 256.7L372.5 258.3L361.7 250.0L371.7 258.3L372.5 265.0L370.0 268.3L360.0 270.0L353.3 272.5L350.0 276.7L345.8 279.2L341.7 277.5L336.7 275.0L335.8 270.0L339.2 268.3L350.0 267.5L350.0 250.0L349.2 244.2Z" fill="#c6dbef"/>
<path d="M323.3 266.7L328.3 265.0L333.3 266.7L335.8 270.0L336.7 275.0L330.0 276.7L325.8 276.7L324.2 273.3Z" fill="#c6dbef"/>
<path d="M372.5 258.3L380.0 253.3L389.2 247.5L391.7 250.0L396.7 247.5L398.3 258.3L397.5 260.0L395.0 271.7L393.3 275.0L383.3 274.2L376.7 272.5L372.5 275.0L370.0 268.3L372.5 265.0L371.7 258.3L361.7 250.0Z" fill="#c6dbef"/>
<path d="M351.7 274.2L358.3 270.0L365.0 271.7L369.2 275.0L366.7 279.2L360.0 280.8L353.3 281.7L350.8 278.3Z" fill="#c6dbef"/>
<path d="M372.5 275.0L376.7 272.5L383.3 274.2L393.3 275.0L395.0 279.2L391.7 285.0L388.3 290.0L383.3 291.7L379.2 296.7L374.2 292.5L370.0 290.8L370.0 283.3L370.8 278.3Z" fill="#c6dbef"/>
<path d="M345.0 282.5L351.7 280.8L355.8 282.5L355.8 295.0L351.7 295.3L345.8 296.3L344.2 290.0Z" fill="#c6dbef"/>
<path d="M396.7 247.5L416.7 256.7L417.5 260.0L416.7 256.7L415.0 266.7L414.2 275.0L416.7 280.0L410.0 283.3L403.3 287.5L398.3 287.5L395.8 281.7L397.5 276.7L395.0 271.7L397.5 260.0L398.3 258.3Z" fill="#c6dbef"/>
<path d="M420.0 251.7L445.0 251.7L445.0 251.7L447.5 256.7L450.0 261.7L446.7 265.8L445.8 273.3L445.0 280.0L440.8 281.7L439.2 276.7L436.7 280.0L432.5 279.2L428.3 283.3L423.3 280.8L420.0 280.0L420.0 282.5L418.3 285.0L416.7 280.0L414.2 275.0L415.0 266.7L416.7 256.7L417.5 260.0L416.7 256.7L420.0 256.7Z" fill="#e56e5a"/>
<path d="M447.5 265.8L450.8 262.5L455.8 270.8L460.8 277.5L459.2 279.2L453.3 272.5L448.3 270.8Z" fill="url(#h)" stroke="#c8c8c8" stroke-width=".5"/>
<path d="M461.3 280.0L468.3 279.2L480.0 277.5L479.2 283.3L473.3 293.3L466.7 301.7L460.0 309.2L458.3 313.3L458.7 301.7L460.0 297.5L466.7 294.2L470.8 288.3L462.5 283.3Z" fill="url(#h)" stroke="#c8c8c8" stroke-width=".5"/>
<path d="M441.7 295.0L447.5 296.7L453.3 298.3L460.0 297.5L458.7 301.7L458.3 313.3L454.2 320.8L449.2 316.7L441.7 311.7L442.5 305.0L443.3 300.0Z" fill="#9ecae1"/>
<path d="M434.2 299.2L441.7 298.3L443.3 300.0L442.5 305.0L441.7 311.7L431.7 311.7L432.5 305.0Z" fill="#c6dbef"/>
<path d="M430.0 312.5L434.2 312.5L434.2 320.0L430.3 320.0Z" fill="#c6dbef"/>
<path d="M393.3 304.2L396.7 303.0L400.8 303.7L402.5 300.0L405.8 299.7L405.0 305.0L402.5 310.0L400.8 314.2L396.7 318.3L393.3 320.0L390.0 320.8L389.7 318.3L392.5 315.8L395.0 314.2L396.7 309.2L394.2 307.5Z" fill="#e56e5a"/>
<path d="M389.7 354.2L405.0 353.8L410.3 355.8L409.7 365.0L408.0 370.0L407.5 383.0L404.2 384.7L400.5 383.3L397.5 376.7L395.0 368.3L391.7 360.0Z" fill="#e56e5a"/>
<path d="M410.8 356.3L420.0 355.3L423.3 359.2L426.7 364.2L429.2 366.7L425.0 370.8L421.7 374.2L416.7 375.8L412.5 375.8L410.0 379.2L408.7 375.0L409.2 368.3L410.3 364.7Z" fill="#e56e5a"/>
<path d="M423.3 355.8L428.3 352.5L432.5 349.7L436.7 351.7L437.5 357.5L435.8 362.5L433.3 366.3L429.2 366.7L426.7 364.2L423.3 359.2Z" fill="#c6dbef"/>
<path d="M443.3 341.7L455.8 336.7L455.8 348.3L452.5 353.3L446.7 358.3L441.7 362.5L443.3 368.3L441.7 371.7L436.7 375.3L434.7 374.2L434.2 366.7L435.8 362.5L437.5 357.5L436.7 351.7L433.3 349.7L437.5 346.3L441.7 351.7L443.7 350.8L442.5 345.0Z" fill="#c6dbef"/>
<path d="M439.2 334.2L441.7 335.0L442.5 345.0L443.3 350.8L441.7 351.7L440.0 346.7L439.7 340.0Z" fill="#c6dbef"/>
<path d="M460.8 368.3L463.3 360.0L465.8 352.5L471.7 346.7L475.8 340.3L478.0 343.3L477.5 350.8L474.2 360.0L470.8 369.2L467.5 374.7L463.3 375.0L461.3 372.5Z" fill="#deebf7"/>
<path d="M585.0 257.3L587.8 254.8L591.7 257.5L595.0 261.7L600.0 262.5L604.2 268.3L602.5 271.7L598.3 273.3L596.7 276.7L593.3 275.8L590.8 278.3L591.7 284.2L595.0 290.0L597.5 293.3L595.0 292.5L591.7 288.3L589.2 283.3L589.2 278.3L588.3 273.3L586.7 266.7Z" fill="#084083"/>
<path d="M589.8 251.3L595.0 250.8L598.3 253.3L601.7 258.3L605.8 264.2L608.3 270.0L605.8 271.7L604.2 268.3L600.0 262.5L595.0 261.7L591.7 257.5L588.0 255.0Z" fill="#c6dbef"/>
<path d="M593.3 250.0L598.3 248.3L603.3 249.2L606.7 252.5L604.2 255.8L606.7 260.8L610.8 266.7L613.3 273.3L612.5 278.3L607.5 282.5L604.2 285.8L603.0 281.7L606.7 278.3L608.3 270.0L605.8 264.2L601.7 258.3L598.3 253.3L595.0 250.8Z" fill="#6baed6"/>
<path d="M598.3 273.3L602.5 271.7L605.8 271.7L608.3 273.3L607.5 277.5L604.2 280.0L600.0 279.2L597.5 276.7Z" fill="url(#h)" stroke="#c8c8c8" stroke-width=".5"/>
<path d="M718.8 322.5L723.8 325.8L723.0 327.0L718.2 323.8Z" fill="#e56e5a"/>
<path d="M725.0 327.5L730.0 330.0L729.5 331.2L724.5 328.8Z" fill="#e56e5a"/>
<path d="M730.0 331.2L735.0 335.5L734.2 336.8L729.5 332.5Z" fill="#e56e5a"/>
<path d="M637.5 260.8L640.8 260.8L642.0 267.5L640.8 273.3L643.3 275.0L642.0 276.7L639.2 274.2L638.0 270.0L637.0 265.0Z" fill="#9ecae1"/>
<path d="M593.3 293.3L596.7 292.5L600.0 296.7L602.5 301.7L603.3 305.0L601.7 305.8L598.3 302.5L595.0 297.5Z" fill="#c6dbef"/>
<path d="M615.8 305.8L620.0 302.5L626.7 297.5L630.0 294.2L632.5 290.8L637.5 294.2L635.8 296.7L632.5 297.5L628.3 300.8L623.3 304.2L617.5 306.7Z" fill="#c6dbef"/>
<path d="M582.5 295.0L587.5 294.7L593.3 299.2L599.2 305.8L604.2 312.5L607.0 318.3L606.7 324.2L603.3 322.5L598.3 316.7L593.3 309.2L588.3 301.7L584.2 297.5Z" fill="#08306b"/>
<path d="M605.8 325.0L610.8 324.2L618.3 326.7L625.0 329.2L628.3 330.8L626.7 332.0L620.0 330.0L612.5 328.7L607.5 327.5Z" fill="#08306b"/>
<path d="M631.7 331.3L635.8 330.3L640.8 331.3L645.0 330.8L645.3 332.5L640.0 333.3L635.0 333.0L632.0 332.7Z" fill="#08306b"/>
<path d="M636.7 333.3L640.0 333.7L639.2 335.0L637.0 334.7Z" fill="#08306b"/>
<path d="M646.7 334.2L650.0 332.0L651.3 333.7L648.3 335.3Z" fill="#08306b"/>
<path d="M650.0 332.0L655.0 330.0L655.8 331.3L651.3 333.7Z" fill="#e56e5a"/>
<path d="M614.2 305.8L617.5 306.7L623.3 304.2L628.3 300.8L632.5 297.5L635.8 300.0L635.0 305.0L636.7 305.8L634.2 309.2L632.5 314.2L630.0 318.7L624.2 317.5L618.3 315.0L615.8 310.8Z" fill="#08306b"/>
<path d="M639.2 307.5L641.7 305.8L646.7 306.3L650.8 304.7L651.7 306.3L647.5 308.3L642.5 309.2L644.2 312.5L648.3 310.8L646.7 314.2L644.2 316.7L645.8 321.7L643.3 322.5L641.7 318.3L640.8 322.5L638.3 322.5L638.0 315.0Z" fill="#08306b"/>
<path d="M657.0 304.2L658.7 303.7L659.7 307.5L658.3 310.3L657.3 307.5Z" fill="#08306b"/>
<path d="M653.3 317.0L656.7 316.7L656.7 318.0L653.3 318.3Z" fill="#08306b"/>
<path d="M658.3 316.3L662.5 315.8L663.0 317.5L658.7 317.7Z" fill="#08306b"/>
<path d="M664.7 311.3L668.3 309.7L671.7 310.8L672.5 314.2L676.7 315.0L680.0 313.3L687.5 315.8L687.0 332.5L684.2 330.8L680.0 330.8L681.7 326.7L678.3 322.5L675.0 320.0L672.5 318.3L671.7 315.0L668.3 313.7Z" fill="#08306b"/>
<path d="M672.2 323.3L673.3 323.3L673.3 325.8L672.2 325.8Z" fill="#08306b"/>
<path d="M687.5 315.8L693.3 318.3L699.2 322.5L702.5 326.7L700.0 328.0L703.3 331.7L708.3 335.3L706.7 336.7L701.7 333.3L696.7 331.7L691.7 332.5L687.0 332.5Z" fill="#e56e5a"/>
<path d="M704.2 323.3L708.3 323.3L712.5 320.0L714.2 315.8L715.0 318.7L713.3 322.5L709.2 325.0L705.0 324.7Z" fill="#e56e5a"/>
<path d="M632.5 287.5L637.5 279.2L638.3 280.0L633.3 288.3Z" fill="#9ecae1"/>
<path d="M642.5 278.3L646.7 276.7L650.8 278.3L649.2 282.5L645.0 283.3Z" fill="#9ecae1"/>
<path d="M643.3 288.3L647.5 286.7L651.7 284.2L654.2 287.5L653.3 292.5L650.8 294.2L648.3 290.8L645.0 290.8Z" fill="#9ecae1"/>
<path d="M618.8 366.2L626.2 362.5L635.0 360.0L642.5 353.8L648.8 348.8L655.0 345.5L660.0 342.5L666.2 338.8L675.0 340.0L673.8 346.2L678.8 351.2L683.8 354.5L686.2 347.5L688.8 338.0L691.2 343.8L695.0 350.0L696.2 357.5L701.2 363.8L703.8 371.2L705.5 378.8L702.5 387.5L697.5 395.0L691.2 400.0L687.5 405.0L680.0 408.8L673.8 410.0L667.5 406.2L665.0 400.0L661.2 397.5L658.8 399.5L655.0 393.8L647.5 391.2L637.5 393.8L630.0 397.5L621.2 399.5L615.0 397.0L617.5 390.0L618.0 380.0L617.5 372.5Z" fill="#9ecae1"/>
<path d="M667.5 417.0L676.2 415.0L675.0 420.0L671.2 422.5L668.0 420.5Z" fill="#9ecae1"/>
<path d="M8.8 256.5L10.5 255.8L12.1 257.5L11.0 259.3L9.2 259.6Z" fill="#084083"/>
<path d="M5.0 252.0L7.0 252.3L9.8 254.2L9.5 255.0L6.5 253.6Z" fill="#084083"/>
<path d="M1.8 250.6L3.4 250.6L3.4 251.9L1.8 251.9Z" fill="#084083"/>
<path d="M739.1 398.8L740.4 399.7L741.3 404.3L743.2 407.0L746.5 407.4L743.2 410.7L739.5 413.4L735.8 417.1L732.5 417.6L733.1 413.4L735.8 409.8L738.0 406.1L738.6 402.4Z" fill="url(#h)" stroke="#c8c8c8" stroke-width=".5"/>
<path d="M729.4 414.7L731.3 416.2L727.6 419.8L723.0 422.6L717.5 426.3L712.0 429.9L707.4 430.5L705.0 428.6L709.3 425.3L715.7 422.6L722.1 418.9L726.7 416.2Z" fill="url(#h)" stroke="#c8c8c8" stroke-width=".5"/>
<path d="M734.4 361.2L735.8 360.8L739.9 366.3L738.6 367.2Z" fill="url(#h)" stroke="#c8c8c8" stroke-width=".5"/>
<path d="M306.0 264.0L308.0 263.6L308.4 265.0L306.4 265.4Z" fill="#e56e5a"/>
<path d="M309.5 266.0L311.0 265.6L311.3 267.0L309.8 267.4Z" fill="#e56e5a"/>
<path d="M205.0 337.5L204.5 347.5L203.8 356.2" fill="none"/>
<path d="M232.5 358.8L233.8 365.0L240.0 368.8L241.2 376.2" fill="none"/>
<path d="M237.5 387.5L246.2 393.0L248.8 393.8" fill="none"/>
<path d="M325.8 276.7L331.7 277.5L336.7 275.0" fill="none"/>
<path d="M331.7 283.3L336.7 282.5L339.2 285.8L343.3 287.5L345.0 282.5" fill="none"/>
<path d="M333.3 287.5L337.5 284.2L338.3 290.8" fill="none"/>
<path d="M338.3 290.8L340.8 287.5L344.2 290.0L345.0 296.7" fill="none"/>
<path d="M356.7 281.7L364.2 280.8L364.2 293.3" fill="none"/>
<path d="M356.3 282.5L358.3 294.7" fill="none"/>
<path d="M366.7 279.2L367.5 293.0" fill="none"/>
<path d="M369.2 275.0L370.8 283.3L369.7 291.7" fill="none"/>
<path d="M383.3 291.7L388.3 290.0L391.7 285.0L395.8 281.7L397.5 285.8L395.8 291.7L397.5 298.3L402.5 300.0L400.8 303.7L396.7 303.0L393.3 304.2L385.0 302.5L384.2 300.0" fill="none"/>
<path d="M394.2 307.5L396.7 309.2L395.0 314.2L392.5 315.8L389.7 318.3" fill="none"/>
<path d="M397.5 298.3L398.3 287.5L403.3 287.5L410.0 283.3L416.7 280.0L418.3 285.0L425.0 290.0L426.7 295.0L420.0 295.8L413.3 297.5L408.3 296.7L405.8 299.7L402.5 300.0" fill="none"/>
<path d="M418.3 285.0L420.0 282.5L426.7 281.7L434.2 282.5L438.3 277.5L440.0 281.7L441.7 288.3L445.0 295.0L441.7 295.0L434.2 300.0L426.7 295.0" fill="none"/>
<path d="M434.2 300.0L432.5 306.7L432.5 310.8L430.0 316.7L431.7 323.3L434.2 328.3L430.0 331.7L429.2 338.3L430.0 342.5L425.0 340.8L418.3 337.5L414.2 336.7L414.2 330.0L408.3 327.5L403.3 328.3L400.0 324.2L393.3 324.2L391.7 321.7" fill="none"/>
<path d="M418.3 337.5L416.7 343.3L416.7 350.0L413.7 352.5L420.0 355.0" fill="none"/>
<path d="M427.5 340.0L430.0 342.5L428.3 332.5L432.5 330.8L436.7 332.5L439.2 334.2" fill="none"/>
<path d="M430.0 342.5L427.5 340.0" fill="none"/>
<path d="M439.7 346.7L437.5 346.7L432.5 349.7" fill="none"/>
<path d="M420.0 355.0L423.3 355.8" fill="none"/>
<path d="M432.5 330.8L430.8 325.0L431.7 320.0" fill="none"/>
<path d="M455.8 336.7L446.7 341.7L443.3 341.7L441.7 335.0L439.2 334.2" fill="none"/>
<path d="M407.5 383.0L410.0 379.2L412.5 375.8" fill="none"/>
<path d="M429.2 366.7L434.7 366.7L434.7 374.2" fill="none"/>
<path d="M423.0 385.8L425.8 383.3L428.0 385.3L425.3 388.3L423.0 385.8" fill="none"/>
<path d="M432.0 377.5L434.2 376.7L435.0 379.2L433.0 380.3L432.0 377.5" fill="none"/>
<path d="M431.7 311.7L441.7 311.7L449.2 316.7L454.2 320.8" fill="none"/>
<path d="M423.3 280.8L428.3 283.3L432.5 279.2L436.7 280.0L439.2 276.7L440.8 281.7L445.0 280.0" fill="none"/>
<path d="M439.2 288.3L441.7 293.3L441.7 295.0L447.5 296.7L453.3 298.3L460.0 297.5L466.7 294.2L470.8 288.3L462.5 283.3L459.2 279.2" fill="none"/>
<path d="M445.8 273.3L441.7 283.3L439.2 288.3" fill="none"/>
<path d="M458.7 277.5L461.3 280.0L460.0 280.8L458.3 279.7" fill="none"/>
<path d="M380.8 212.5L380.0 218.3L380.8 223.3L384.2 229.2L385.8 225.8L388.3 222.5" fill="none"/>
<path d="M387.5 164.2L385.0 156.7L385.8 150.0L387.5 144.2L390.8 139.2L395.8 135.0L401.7 132.5L405.0 131.7L406.7 135.8L407.5 140.8" fill="none"/>
<path d="M405.0 131.7L408.3 130.0L412.5 129.2" fill="none"/>
<path d="M406.7 158.3L415.8 159.2" fill="none"/>
<path d="M404.2 163.3L410.0 162.5L416.7 163.3" fill="none"/>
<path d="M392.5 174.2L395.8 175.8L400.0 177.5L405.0 178.3L409.7 178.3" fill="none"/>
<path d="M389.2 176.7L392.5 179.7L396.7 180.0L400.0 177.5" fill="none"/>
<path d="M381.7 183.3L388.3 183.3L390.0 180.0L396.7 180.0L397.5 183.3L396.3 186.7L391.7 187.5L386.7 186.7L381.7 185.8" fill="none"/>
<path d="M375.8 185.0L381.7 183.3L381.7 186.7L377.5 188.3L375.8 185.0" fill="none"/>
<path d="M396.7 180.0L400.0 177.5" fill="none"/>
<path d="M376.7 190.0L378.3 193.3" fill="none"/>
<path d="M359.2 195.3L365.8 197.5L370.0 198.3" fill="none"/>
<path d="M344.2 196.7L348.3 197.5L348.3 203.3L346.7 210.8" fill="none"/>
<path d="M377.5 190.0L381.7 187.5L388.3 188.3L390.8 190.0L395.8 191.3" fill="none"/>
<path d="M390.8 190.0L395.8 187.5L403.3 188.3L408.0 186.7" fill="none"/>
<path d="M400.8 190.8L406.7 190.0L408.3 191.7L411.7 195.0L409.2 197.5" fill="none"/>
<path d="M411.7 195.0L420.8 194.7" fill="none"/>
<path d="M411.3 202.5L415.0 202.5L420.8 200.8" fill="none"/>
<path d="M421.7 184.7L423.3 187.5L425.8 189.7L423.3 189.7L420.8 186.7" fill="none"/>
<path d="M416.7 163.3L420.8 162.5L425.8 165.8L428.3 170.0L425.0 174.2L420.0 173.3L413.3 173.3L410.0 174.2" fill="none"/>
<path d="M425.0 174.2L430.0 172.5L436.7 175.0L443.3 178.3L444.2 182.5L440.0 185.0L438.3 187.5" fill="none"/>
<path d="M378.3 165.8L383.3 166.7" fill="none"/>
<path d="M208.2 303.5L202.9 304.1L202.4 307.6L201.2 313.5L202.5 317.5L196.2 321.2L193.8 327.5L196.2 333.8L203.8 337.5L205.0 337.5L211.2 335.0L217.5 341.2L225.0 345.0L230.0 350.0L232.5 358.8L223.8 360.0L221.2 366.2L215.0 366.2" fill="none"/>
<path d="M189.4 310.0L193.5 314.1L197.1 314.7L201.2 313.5" fill="none"/>
</g>
<g><rect x="103.00" y="517" width="58.55" height="11" fill="#e56e5a"/>
<rect x="161.55" y="517" width="58.55" height="11" fill="#deebf7"/>
<rect x="220.10" y="517" width="58.55" height="11" fill="#c6dbef"/>
<rect x="278.65" y="517" width="58.55" height="11" fill="#9ecae1"/>
<rect x="337.20" y="517" width="58.55" height="11" fill="#6baed6"/>
<rect x="395.75" y="517" width="58.55" height="11" fill="#4292c6"/>
<rect x="454.30" y="517" width="58.55" height="11" fill="#2171b5"/>
<rect x="512.85" y="517" width="58.55" height="11" fill="#1561a9"/>
<rect x="571.40" y="517" width="58.55" height="11" fill="#08519c"/>
<rect x="629.95" y="517" width="58.55" height="11" fill="#084083"/>
<rect x="688.50" y="517" width="58.55" height="11" fill="#08306b"/>
<line x1="161.55" y1="517" x2="161.55" y2="528" stroke="#8a8a8a" stroke-width=".6"/>
<line x1="220.10" y1="517" x2="220.10" y2="528" stroke="#8a8a8a" stroke-width=".6"/>
<line x1="278.65" y1="517" x2="278.65" y2="528" stroke="#8a8a8a" stroke-width=".6"/>
<line x1="337.20" y1="517" x2="337.20" y2="528" stroke="#8a8a8a" stroke-width=".6"/>
<line x1="395.75" y1="517" x2="395.75" y2="528" stroke="#8a8a8a" stroke-width=".6"/>
<line x1="454.30" y1="517" x2="454.30" y2="528" stroke="#8a8a8a" stroke-width=".6"/>
<line x1="512.85" y1="517" x2="512.85" y2="528" stroke="#8a8a8a" stroke-width=".6"/>
<line x1="571.40" y1="517" x2="571.40" y2="528" stroke="#8a8a8a" stroke-width=".6"/>
<line x1="629.95" y1="517" x2="629.95" y2="528" stroke="#8a8a8a" stroke-width=".6"/>
<line x1="688.50" y1="517" x2="688.50" y2="528" stroke="#8a8a8a" stroke-width=".6"/>
<line x1="132.28" y1="514" x2="132.28" y2="517" stroke="#c4c4c4" stroke-width="1"/>
<text x="132.28" y="509.8" text-anchor="middle" font-size="12.2" fill="#5b5b5b">0</text>
<line x1="190.82" y1="514" x2="190.82" y2="517" stroke="#c4c4c4" stroke-width="1"/>
<text x="190.82" y="509.8" text-anchor="middle" font-size="12.2" fill="#5b5b5b">1</text>
<line x1="249.38" y1="514" x2="249.38" y2="517" stroke="#c4c4c4" stroke-width="1"/>
<text x="249.38" y="509.8" text-anchor="middle" font-size="12.2" fill="#5b5b5b">2</text>
<line x1="307.92" y1="514" x2="307.92" y2="517" stroke="#c4c4c4" stroke-width="1"/>
<text x="307.92" y="509.8" text-anchor="middle" font-size="12.2" fill="#5b5b5b">3</text>
<line x1="366.47" y1="514" x2="366.47" y2="517" stroke="#c4c4c4" stroke-width="1"/>
<text x="366.47" y="509.8" text-anchor="middle" font-size="12.2" fill="#5b5b5b">4</text>
<line x1="425.02" y1="514" x2="425.02" y2="517" stroke="#c4c4c4" stroke-width="1"/>
<text x="425.02" y="509.8" text-anchor="middle" font-size="12.2" fill="#5b5b5b">5</text>
<line x1="483.57" y1="514" x2="483.57" y2="517" stroke="#c4c4c4" stroke-width="1"/>
<text x="483.57" y="509.8" text-anchor="middle" font-size="12.2" fill="#5b5b5b">6</text>
<line x1="542.12" y1="514" x2="542.12" y2="517" stroke="#c4c4c4" stroke-width="1"/>
<text x="542.12" y="509.8" text-anchor="middle" font-size="12.2" fill="#5b5b5b">7</text>
<line x1="600.67" y1="514" x2="600.67" y2="517" stroke="#c4c4c4" stroke-width="1"/>
<text x="600.67" y="509.8" text-anchor="middle" font-size="12.2" fill="#5b5b5b">8</text>
<line x1="659.23" y1="514" x2="659.23" y2="517" stroke="#c4c4c4" stroke-width="1"/>
<text x="659.23" y="509.8" text-anchor="middle" font-size="12.2" fill="#5b5b5b">9</text>
<line x1="717.77" y1="514" x2="717.77" y2="517" stroke="#c4c4c4" stroke-width="1"/>
<text x="717.77" y="509.8" text-anchor="middle" font-size="12.2" fill="#5b5b5b">10</text>
<rect x="103" y="517" width="644.05" height="11" fill="none" stroke="#9a9a9a" stroke-width=".5"/></g>
</svg>
<h1 class="title"><span id="t1" style="letter-spacing:-0.04px">Number of income/consumption surveys in the past decade available via</span><br><span id="t2" style="letter-spacing:-0.5px">the World Bank, 2025</span></h1>
<div class="logo"><span id="lg1" style="letter-spacing:0.08px">Our World</span><br><span id="lg2" style="letter-spacing:-0.08px">in Data</span></div>
<div class="foot" style="left:15.9px;top:549px;"><b id="f1a" style="letter-spacing:-0.6px">Data source:</b></div>
<div class="foot" style="left:92.4px;top:549px;"><span id="f1b" style="letter-spacing:0px">World Bank Poverty and Inequality Platform (2026)</span></div>
<div class="foot" style="left:15.9px;top:569px;"><b id="f2a" style="letter-spacing:-0.33px">Note:</b></div>
<div class="foot" style="left:51.5px;top:569px;"><span id="f2b" style="letter-spacing:-0.14px">Each decade comprises the reference year and the nine years before.</span></div>
<div class="foot" style="left:618.5px;top:549px;"><span id="f3" style="letter-spacing:0.03px">OurWorldinData.org/poverty | CC BY</span></div>
</body></html>
